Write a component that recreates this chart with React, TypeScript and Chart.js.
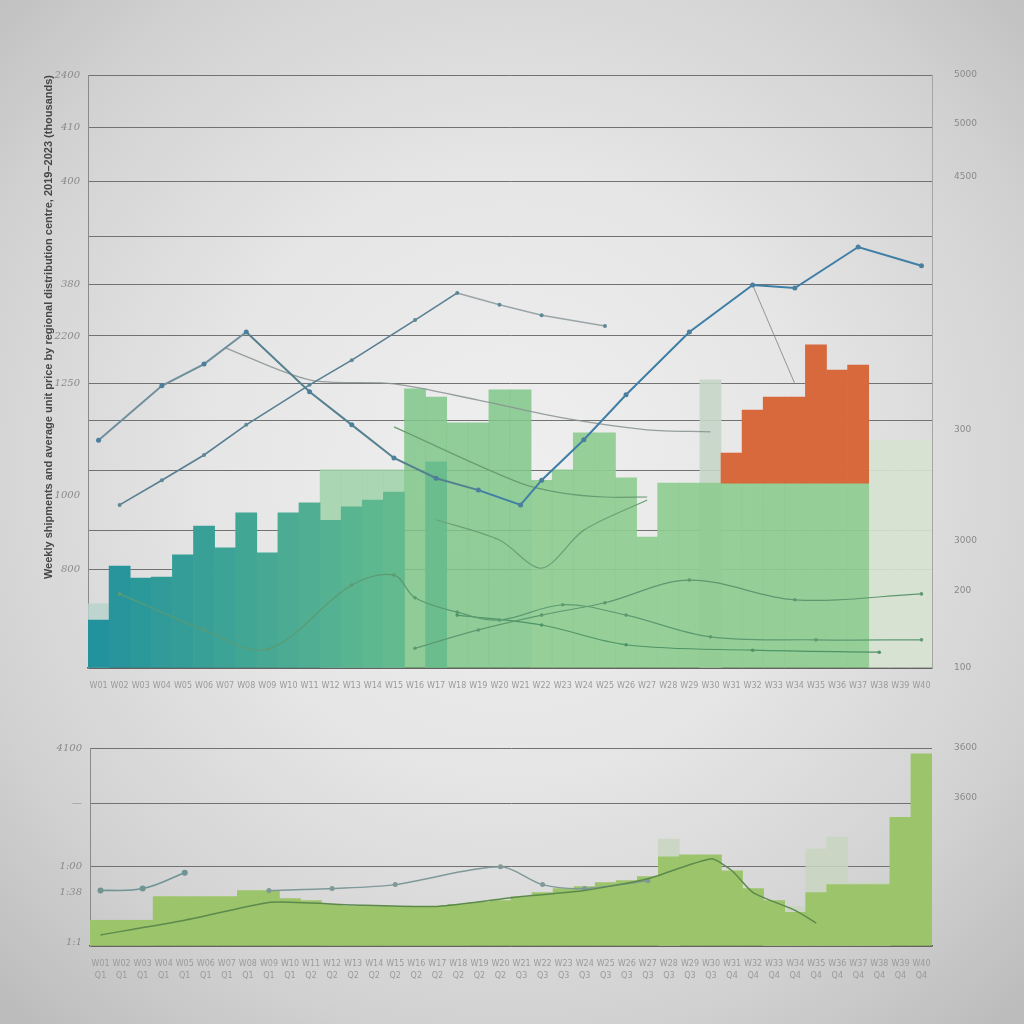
import React, { useEffect, useRef } from "react";
import { Chart, registerables } from "chart.js";
Chart.register(...registerables);

// ---------- categories ----------
const weeks = [
  "W01", "W02", "W03", "W04", "W05", "W06", "W07", "W08", "W09", "W10",
  "W11", "W12", "W13", "W14", "W15", "W16", "W17", "W18", "W19", "W20",
  "W21", "W22", "W23", "W24", "W25", "W26", "W27", "W28", "W29", "W30",
  "W31", "W32", "W33", "W34", "W35", "W36", "W37", "W38", "W39", "W40",
];
const quarters = [
  "Q1", "Q1", "Q1", "Q1", "Q1", "Q1", "Q1", "Q1", "Q1", "Q1",
  "Q2", "Q2", "Q2", "Q2", "Q2", "Q2", "Q2", "Q2", "Q2", "Q2",
  "Q3", "Q3", "Q3", "Q3", "Q3", "Q3", "Q3", "Q3", "Q3", "Q3",
  "Q4", "Q4", "Q4", "Q4", "Q4", "Q4", "Q4", "Q4", "Q4", "Q4",
];

// ---------- top chart axes ----------
const topTickValues = [0, 200, 279, 350, 399, 500, 575, 672, 777, 874, 985, 1093, 1200];
const topTickLabels = ["", "800", "", "1000", "", "", "1250", "2200", "380", "", "400", "410", "2400"];
const topGridOn = [true, true, true, false, true, true, true, true, true, true, true, true, true];
const topRightValues = [0, 156, 257, 482, 994, 1101, 1200];
const topRightLabels = ["100", "200", "3000", "300", "4500", "5000", "5000"];
const topTitle = "Weekly shipments and average unit price by regional distribution centre, 2019–2023 (thousands)";

// ---------- top chart series ----------
const tealBars = [97, 206, 182, 184, 229, 287, 243, 314, 233, 314, 334, 299, 326, 340, 356,
  null, null, null, null, null, null, null, null, null, null, null, null, null, null, null,
  null, null, null, null, null, null, null, null, null, null];
const lightBars = [130, null, null, null, null, null, null, null, null, null, null, 401, 401, 401, 401,
  565, 548, 496, 496, 563, 563, 380, 401, 476, 476, 385, 265, 374, 374, 374,
  374, 374, 374, 374, 374, 374, 374, null, null, null];
const ghostBars = [null, null, null, null, null, null, null, null, null, null, null, null, null, null, null,
  null, null, null, null, null, null, null, null, null, null, null, null, null, null, 583,
  null, null, null, null, null, null, null, 461, 461, 461];
const midBars = [null, null, null, null, null, null, null, null, null, null, null, null, null, null, null,
  null, 417, null, null, null, null, null, null, null, null, null, null, null, null, null,
  null, null, null, null, null, null, null, null, null, null];
const orangeBase = 374;
const orangeTops = [null, null, null, null, null, null, null, null, null, null, null, null, null, null, null,
  null, null, null, null, null, null, null, null, null, null, null, null, null, null, null,
  435, 522, 548, 548, 654, 603, 613, null, null, null];

const lineSlate = [null, 330, null, 380, null, 431, null, 492, null, null, 573, null, 623, null, null,
  704, null, 759, null, 735, null, 714, null, null, 692, null, null, null, null, null,
  null, null, null, null, null, null, null, null, null, null];
const lineBlue = [461, null, null, 571, null, 615, null, 680, null, null, 559, null, 492, null, 425,
  null, 384, null, 360, null, 330, 380, null, 462, null, 553, null, null, 680, null,
  null, 775, null, 769, null, null, 852, null, null, 814];
const lineGray = [null, null, null, null, null, null, 648, null, null, null, 583, null, null, null, 575,
  null, null, null, 542, null, null, null, 506, null, null, null, 482, null, null, 478,
  null, null, null, null, null, null, null, null, null, null];
const lineGrayDrop = [null, null, null, null, null, null, null, null, null, null, null, null, null, null, null,
  null, null, null, null, null, null, null, null, null, null, null, null, null, null, null,
  null, 775, null, 575, null, null, null, null, null, null];
const lineGreenA = [null, 150, null, null, null, 77, null, null, 38, null, null, null, 168, null, 188,
  142, null, 113, null, 97, null, null, 128, null, null, 107, null, null, null, 63,
  null, null, null, null, 57, null, null, null, null, 57];
const lineGreenB = [null, null, null, null, null, null, null, null, null, null, null, null, null, null, null,
  40, null, null, 77, null, null, 107, null, null, 132, null, null, null, 178, null,
  null, null, null, 138, null, null, null, null, null, 150];
const lineGreenC = [null, null, null, null, null, null, null, null, null, null, null, null, null, null, 488,
  null, null, null, null, null, 374, null, 354, null, 346, null, 346, null, null, null,
  null, null, null, null, null, null, null, null, null, null];
const lineGreenD = [null, null, null, null, null, null, null, null, null, null, null, null, null, null, null,
  null, 300, null, null, 259, null, 202, null, 279, null, null, 340, null, null, null,
  null, null, null, null, null, null, null, null, null, null];
const lineGreenE = [null, null, null, null, null, null, null, null, null, null, null, null, null, null, null,
  null, null, 107, null, null, null, 87, null, null, null, 47, null, null, null, null,
  null, 36, null, null, null, null, null, 32, null, null];

// ---------- bottom chart ----------
const botTickValues = [0, 2, 27, 40, 72, 100];
const botTickLabels = ["", "1:1", "1:38", "1:00", "—", "4100"];
const botGridOn = [true, false, false, true, true, true];
const botRightValues = [75, 100];
const botRightLabels = ["3600", "3600"];

const botGreen = [13, 13, 13, 25, 25, 25, 25, 28, 28, 24, 23, 21, 20, 20, 20, 20, 20, 21, 22, 23,
  25, 27, 29, 30, 32, 33, 35, 45, 46, 46, 38, 29, 23, 17, 27, 31, 31, 31, 65, 97];
const botLight = [null, null, null, null, null, null, null, null, null, null, null, null, null, null, null,
  null, null, null, null, null, null, null, null, null, null, null, null, 54, null, null,
  null, null, 20, 20, 49, 55, 32, 32, null, null];
const botLineDark = [5.6, null, null, null, 13, null, null, null, 22, null, 21.7, null, 20.7, null, null,
  null, 20, null, null, null, 25, null, null, 28, null, null, 34, null, null, 44,
  38, 27, null, 18, 11.6, null, null, null, null, null];
const botLineTealA = [28, null, 29, null, 37, null, null, null, null, null, null, null, null, null, null,
  null, null, null, null, null, null, null, null, null, null, null, null, null, null, null,
  null, null, null, null, null, null, null, null, null, null];
const botLineTealB = [null, null, null, null, null, null, null, null, 28, null, null, 29, null, null, 31,
  null, null, null, null, 40, null, 31, null, 29, null, null, 33, null, null, null,
  null, null, null, null, null, null, null, null, null, null];

function mix(a: number[], b: number[], t: number) {
  const c = a.map((v, i) => Math.round(v + (b[i] - v) * t));
  return `rgb(${c[0]},${c[1]},${c[2]})`;
}

const tealColors = tealBars.map((_, i) => mix([34, 146, 156], [98, 186, 142], Math.min(i, 14) / 14));
const lightColors = lightBars.map((_, i) => {
  if (i === 0) return "rgba(185,212,205,0.85)";
  if (i >= 11 && i <= 14) return "rgba(160,210,170,0.85)";
  if (i >= 15 && i <= 20) return "rgba(128,199,136,0.85)";
  return "rgba(142,204,144,0.92)";
});
const ghostColors = ghostBars.map((_, i) => (i === 29 ? "rgba(198,214,200,0.9)" : "rgba(214,226,210,0.9)"));

const tickFont = { family: "DejaVu Serif", size: 10, style: "italic" as const };

function lineDs(label: string, data: (number | null)[], color: string, width: number, tension: number, radius: number, order = 0, segColor?: (i: number) => string) {
  return {
    type: "line" as const,
    label,
    data,
    borderColor: color,
    backgroundColor: color,
    borderWidth: width,
    tension,
    spanGaps: true,
    pointRadius: radius,
    pointBorderWidth: 0,
    pointBackgroundColor: color,
    order,
    segment: segColor ? { borderColor: (ctx: any) => segColor(ctx.p0DataIndex) } : undefined,
  };
}

function barDs(label: string, data: any[], color: any, order: number) {
  return {
    type: "bar" as const,
    label,
    data,
    backgroundColor: color,
    borderWidth: 0,
    barPercentage: 1,
    categoryPercentage: 1,
    grouped: false,
    order,
  };
}

export default function App() {
  const topRef = useRef<HTMLCanvasElement>(null);
  const botRef = useRef<HTMLCanvasElement>(null);

  useEffect(() => {
    const top = new Chart(topRef.current!, {
      type: "bar",
      data: {
        labels: weeks,
        datasets: [
          lineDs("Average price", lineBlue, "#4a7f9e", 2, 0, 2.5, 0, (i) => (i < 7 ? "#6f8f9c" : i < 19 ? "#55808f" : "#3f7ea6")) as any,
          lineDs("Index", lineSlate, "#5e8797", 1.6, 0, 2, 0, (i) => (i < 17 ? "#587f92" : "#9aa5a8")),
          lineDs("Baseline", lineGray, "rgba(135,145,145,0.85)", 1.3, 0.3, 0, 0),
          lineDs("Drop", lineGrayDrop, "rgba(125,130,125,0.8)", 1, 0, 0, 0),
          lineDs("Region A", lineGreenA, "#5c9a72", 1.2, 0.35, 1.8, 0),
          lineDs("Region B", lineGreenB, "#5e9870", 1.2, 0.35, 1.8, 0),
          lineDs("Region C", lineGreenC, "#6a9c74", 1.2, 0.35, 0, 0),
          lineDs("Region D", lineGreenD, "#6aa077", 1.2, 0.3, 0, 0),
          lineDs("Region E", lineGreenE, "#4f9466", 1.2, 0.35, 1.8, 0),
          barDs("Surge", orangeTops.map((v) => (v === null ? null : [orangeBase, v])), "#d8693c", 1),
          barDs("Shipments", tealBars, tealColors, 2),
          barDs("Peak", midBars, "rgba(104,188,140,0.92)", 2),
          barDs("Capacity", lightBars, lightColors, 3),
          barDs("Reserve", ghostBars, ghostColors, 4),
        ],
      },
      options: {
        animation: false,
        responsive: false,
        layout: { padding: { top: 75, left: 0, right: 0, bottom: 0 } },
        plugins: { legend: { display: false }, tooltip: { enabled: false } },
        scales: {
          x: {
            afterFit: (s: any) => { s.height = 42; },
            grid: { display: false },
            border: { display: true, color: "#555", width: 1.5 },
            ticks: { autoSkip: false, maxRotation: 0, minRotation: 0, color: "#9a9a9a", padding: 5, font: { family: "DejaVu Sans", size: 8 } },
          },
          y: {
            min: 0,
            max: 1200,
            afterFit: (s: any) => { s.width = 88; },
            afterBuildTicks: (a: any) => { a.ticks = topTickValues.map((v) => ({ value: v })); },
            ticks: { autoSkip: false, callback: (_v: any, i: number) => topTickLabels[i], color: "#8a8a8a", font: tickFont, padding: 8 },
            grid: { drawTicks: false, color: (ctx: any) => (topGridOn[ctx.index] ? "#727272" : "rgba(0,0,0,0)"), lineWidth: 1 },
            border: { display: true, color: "#8a8a8a" },
            title: {
              display: true,
              text: topTitle,
              align: "end",
              color: "#474747",
              font: { family: "Liberation Sans", size: 11, weight: "bold" },
              padding: { top: 42, bottom: 0 },
            },
          },
          y1: {
            position: "right",
            min: 0,
            max: 1200,
            afterFit: (s: any) => { s.width = 92; },
            afterBuildTicks: (a: any) => { a.ticks = topRightValues.map((v) => ({ value: v })); },
            ticks: { autoSkip: false, callback: (_v: any, i: number) => topRightLabels[i], color: "#8a8a8a", font: { family: "DejaVu Sans", size: 9 }, padding: 14 },
            grid: { display: false },
            border: { display: true, color: "#a5a5a5" },
          },
        },
      } as any,
    });

    const bot = new Chart(botRef.current!, {
      type: "bar",
      data: {
        labels: weeks.map((w, i) => [w, quarters[i]]),
        datasets: [
          lineDs("Trend", botLineDark, "#5b8a4c", 1.5, 0.2, 0, 0),
          lineDs("Forecast A", botLineTealA, "#6f9494", 1.6, 0.4, 3, 0),
          lineDs("Forecast B", botLineTealB, "#7f9898", 1.5, 0.3, 2.5, 0),
          barDs("Volume", botGreen, "#9cc46a", 2),
          barDs("Backlog", botLight, "rgba(200,214,192,0.85)", 3),
        ],
      },
      options: {
        animation: false,
        responsive: false,
        layout: { padding: { top: 28, left: 0, right: 0, bottom: 0 } },
        plugins: { legend: { display: false }, tooltip: { enabled: false } },
        scales: {
          x: {
            afterFit: (s: any) => { s.height = 54; },
            grid: { display: false },
            border: { display: true, color: "#555", width: 1.5 },
            ticks: { autoSkip: false, maxRotation: 0, minRotation: 0, color: "#9a9a9a", padding: 4, font: { family: "DejaVu Sans", size: 8, lineHeight: 1.5 } },
          },
          y: {
            min: 0,
            max: 100,
            afterFit: (s: any) => { s.width = 90; },
            afterBuildTicks: (a: any) => { a.ticks = botTickValues.map((v) => ({ value: v })); },
            ticks: { autoSkip: false, callback: (_v: any, i: number) => botTickLabels[i], color: "#8a8a8a", font: tickFont, padding: 8 },
            grid: { drawTicks: false, color: (ctx: any) => (botGridOn[ctx.index] ? "#727272" : "rgba(0,0,0,0)") },
            border: { display: true, color: "#8a8a8a" },
          },
          y1: {
            position: "right",
            min: 0,
            max: 100,
            afterFit: (s: any) => { s.width = 92; },
            afterBuildTicks: (a: any) => { a.ticks = botRightValues.map((v) => ({ value: v })); },
            ticks: { autoSkip: false, callback: (_v: any, i: number) => botRightLabels[i], color: "#8a8a8a", font: { family: "DejaVu Sans", size: 9 }, padding: 14 },
            grid: { display: false },
            border: { display: false },
          },
        },
      } as any,
    });

    return () => {
      top.destroy();
      bot.destroy();
    };
  }, []);

  return (
    <div
      style={{
        position: "absolute",
        left: 0,
        top: 0,
        width: 1024,
        height: 1024,
        overflow: "hidden",
        background:
          "radial-gradient(ellipse 72% 72% at 50% 46%, #efefef 0%, #e6e6e6 40%, #d2d2d2 75%, #bcbcbc 100%)",
      }}
    >
      <canvas ref={topRef} width={1024} height={710} style={{ position: "absolute", left: 0, top: 0 }} />
      <canvas ref={botRef} width={1024} height={280} style={{ position: "absolute", left: 0, top: 720 }} />
    </div>
  );
}
